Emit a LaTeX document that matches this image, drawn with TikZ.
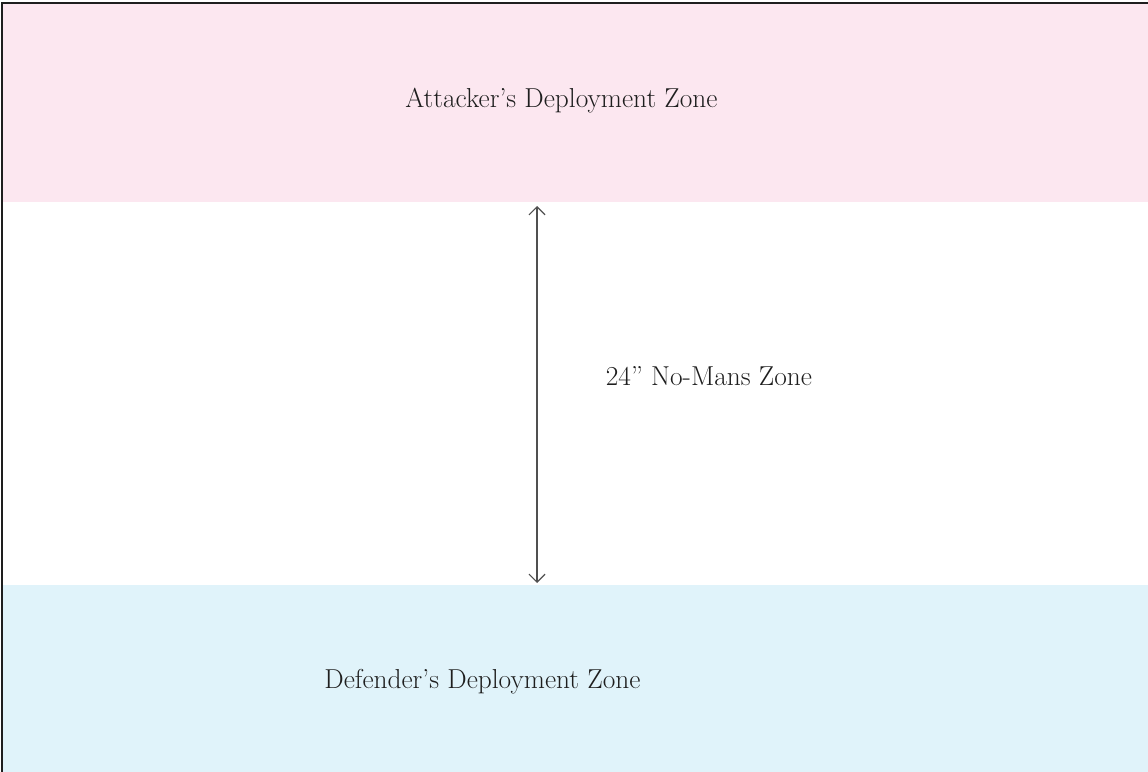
\documentclass[tikz,border=0pt]{standalone}
\usetikzlibrary{arrows.meta}
\definecolor{attackpink}{RGB}{252,231,240}
\definecolor{defendblue}{RGB}{224,243,250}
\definecolor{frameink}{RGB}{30,30,30}
\definecolor{arrowink}{RGB}{80,80,80}
\tikzset{
  zonelabel/.style={anchor=base, inner sep=0pt, text=frameink,
    font=\fontsize{27.5}{32}\selectfont},
  gapmeasure/.style={draw=arrowink, line width=1.2bp,
    {Straight Barb[length=8bp,width=16bp]}-{Straight Barb[length=8bp,width=16bp]}}
}
\begin{document}
\begin{tikzpicture}[x=1bp,y=-1bp]
  \useasboundingbox (0,0) rectangle (1148,772);
  % deployment zones
  \fill[attackpink] (2,3) rectangle (1148,201.5);
  \fill[defendblue] (2,585) rectangle (1148,772);
  % table edge
  \draw[frameink, line width=2.6bp] (2,772) -- (2,3) -- (1148,3);
  % labels
  \node[zonelabel] (attacker) at (561.5,108) {Attacker’s Deployment Zone};
  \node[zonelabel] (nomans) at (709,385) {24” No-Mans Zone};
  \node[zonelabel] (defender) at (482.5,688) {Defender’s Deployment Zone};
  % 24" gap between the zones
  \coordinate (gaptop) at (537,206);
  \coordinate (gapbottom) at (537,583);
  \draw[gapmeasure] (gaptop) -- (gapbottom);
\end{tikzpicture}
\end{document}
